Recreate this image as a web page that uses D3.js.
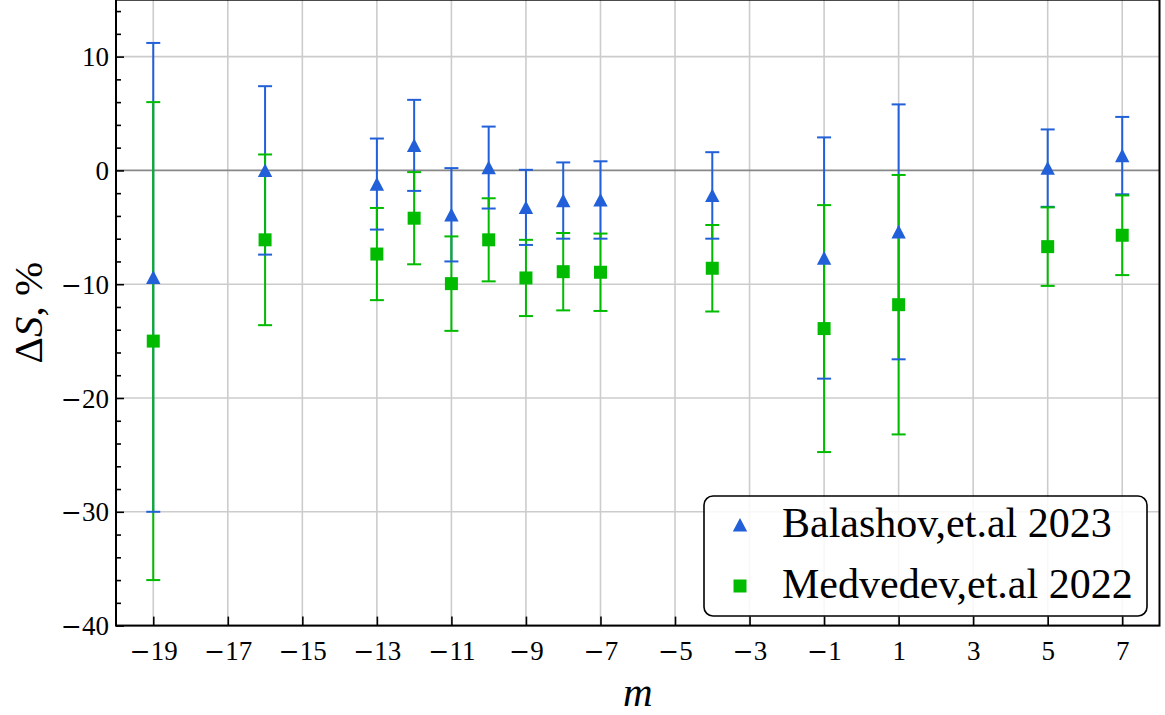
<!DOCTYPE html>
<html>
<head>
<meta charset="utf-8">
<script src="https://cdn.jsdelivr.net/npm/d3@7"></script>
<style>
  body { margin: 0; background: #fff; }
  svg { display: block; font-family: "Liberation Serif", "Times New Roman", serif; }
</style>
</head>
<body>
<svg id="chart" width="1165" height="715"></svg>
<script>
// data
var mValues = [-19, -16, -13, -12, -11, -10, -9, -8, -7, -4, -1, 1, 5, 7];
var balashov = [-9.4, 0.0, -1.2, 2.2, -3.9, 0.25, -3.25, -2.65, -2.6, -2.2, -7.7, -5.4, 0.2, 1.3];
var balashovErr = [20.6, 7.4, 4.0, 4.0, 4.1, 3.6, 3.3, 3.35, 3.4, 3.8, 10.6, 11.2, 3.4, 3.4];
var medvedev = [-15.0, -6.1, -7.35, -4.2, -9.95, -6.1, -9.45, -8.9, -8.95, -8.6, -13.9, -11.8, -6.7, -5.7];
var medvedevErr = [21.0, 7.5, 4.05, 4.05, 4.15, 3.65, 3.35, 3.4, 3.4, 3.8, 10.85, 11.4, 3.45, 3.5];
var xTicks = [-19, -17, -15, -13, -11, -9, -7, -5, -3, -1, 1, 3, 5, 7];
var yTicks = [-40, -30, -20, -10, 0, 10];
var yMinorTicks = d3.range(-38, 15, 2).filter(function(v) { return v % 10 !== 0; });
var seriesNames = ["Balashov,et.al 2023", "Medvedev,et.al 2022"];

var blue = "#2160d8",
    green = "#00bb00";

var svg = d3.select("#chart");

var plotLeft = 116, plotRight = 1159.5, plotTop = -0.3, plotBottom = 625.6;

var x = d3.scaleLinear().domain([-20, 8]).range([plotLeft, plotRight]);
var y = d3.scaleLinear().domain([-40, 15]).range([plotBottom, plotTop]);

// tick label with a long minus sign like matplotlib
function tickLabel(sel) {
    sel.each(function(d) {
        var t = d3.select(this).text("");
        if (d < 0) {
            t.append("tspan").attr("font-family", "DejaVu Serif").attr("font-size", 25).text("\u2212");
            t.append("tspan").text(Math.abs(d));
        } else {
            t.text(d);
        }
    });
}

// grid
var grid = svg.append("g");
grid.selectAll(".gx").data(xTicks).enter().append("line")
    .attr("x1", function(d) { return x(d); }).attr("x2", function(d) { return x(d); })
    .attr("y1", plotTop).attr("y2", plotBottom)
    .attr("stroke", "#cccccc").attr("stroke-width", 1.6);
grid.selectAll(".gy").data(yTicks.filter(function(d) { return d !== 0; })).enter().append("line")
    .attr("x1", plotLeft).attr("x2", plotRight)
    .attr("y1", function(d) { return y(d); }).attr("y2", function(d) { return y(d); })
    .attr("stroke", "#cccccc").attr("stroke-width", 1.6);
grid.append("line")
    .attr("x1", plotLeft).attr("x2", plotRight)
    .attr("y1", y(0)).attr("y2", y(0))
    .attr("stroke", "#888888").attr("stroke-width", 1.6);

// error bars, caps, then markers
var series = [
    { vals: balashov, err: balashovErr, color: blue, shape: "tri" },
    { vals: medvedev, err: medvedevErr, color: green, shape: "sq" }
];

series.forEach(function(s) {
    svg.append("g").selectAll("line").data(mValues).enter().append("line")
        .attr("x1", function(d) { return x(d); }).attr("x2", function(d) { return x(d); })
        .attr("y1", function(d, i) { return y(s.vals[i] + s.err[i]); })
        .attr("y2", function(d, i) { return y(s.vals[i] - s.err[i]); })
        .attr("stroke", s.color).attr("stroke-width", 2);
});

series.forEach(function(s) {
    var caps = svg.append("g");
    [1, -1].forEach(function(sign) {
        caps.selectAll(null).data(mValues).enter().append("line")
            .attr("x1", function(d) { return x(d) - 7; }).attr("x2", function(d) { return x(d) + 7; })
            .attr("y1", function(d, i) { return y(s.vals[i] + sign * s.err[i]); })
            .attr("y2", function(d, i) { return y(s.vals[i] + sign * s.err[i]); })
            .attr("stroke", s.color).attr("stroke-width", 2);
    });
});

var triangle = "M0,-7L7.2,6.6L-7.2,6.6Z";
var square = "M-6.5,-6.5H6.5V6.5H-6.5Z";

series.forEach(function(s) {
    svg.append("g").selectAll("path").data(mValues).enter().append("path")
        .attr("d", s.shape === "tri" ? triangle : square)
        .attr("transform", function(d, i) { return "translate(" + x(d) + "," + y(s.vals[i]) + ")"; })
        .attr("fill", s.color);
});

// axes with inward ticks
var xAxis = svg.append("g")
    .attr("transform", "translate(0," + plotBottom + ")")
    .call(d3.axisBottom(x).tickValues(xTicks).tickSize(-9).tickPadding(15));
var yAxis = svg.append("g")
    .attr("transform", "translate(" + plotLeft + ",0)")
    .call(d3.axisLeft(y).tickValues(yTicks).tickSize(-8).tickPadding(7));
svg.append("g")
    .attr("transform", "translate(" + plotLeft + ",0)")
    .call(d3.axisLeft(y).tickValues(yMinorTicks).tickSize(-5).tickFormat(""));

svg.selectAll(".domain").remove();
svg.selectAll(".tick line").attr("stroke", "#000").attr("stroke-width", 1.6);
xAxis.attr("font-size", 27).attr("font-family", "Liberation Serif, serif");
yAxis.attr("font-size", 27).attr("font-family", "Liberation Serif, serif");
xAxis.selectAll(".tick text").call(tickLabel).attr("fill", "#000").attr("dy", "0.71em");
yAxis.selectAll(".tick text").call(tickLabel).attr("fill", "#000").attr("dy", "0.34em");

// frame
svg.append("rect")
    .attr("x", plotLeft).attr("y", plotTop)
    .attr("width", plotRight - plotLeft).attr("height", plotBottom - plotTop)
    .attr("fill", "none").attr("stroke", "#000").attr("stroke-width", 2);

// axis labels
svg.append("text")
    .attr("x", (plotLeft + plotRight) / 2).attr("y", 706)
    .attr("text-anchor", "middle")
    .attr("font-size", 41).attr("font-style", "italic")
    .text("m");

var yl = svg.append("text")
    .attr("transform", "translate(41.5," + (plotTop + plotBottom) / 2 + ") rotate(-90)")
    .attr("text-anchor", "middle")
    .attr("font-size", 41);
yl.append("tspan").text("\u0394");
yl.append("tspan").attr("font-style", "italic").text("S");
yl.append("tspan").text(", %");

// legend
var legend = svg.append("g");
legend.append("rect")
    .attr("x", 704).attr("y", 496)
    .attr("width", 443).attr("height", 120)
    .attr("rx", 9)
    .attr("fill", "#ffffff").attr("fill-opacity", 0.85)
    .attr("stroke", "#000").attr("stroke-width", 1.6);

var legendRows = legend.selectAll(".row").data(seriesNames).enter().append("g")
    .attr("transform", function(d, i) { return "translate(740," + (525 + i * 61) + ")"; });
legendRows.append("path")
    .attr("d", function(d, i) { return i === 0 ? triangle : square; })
    .attr("fill", function(d, i) { return series[i].color; });
legendRows.append("text")
    .attr("x", 42).attr("y", 12)
    .attr("font-size", 42)
    .text(function(d) { return d; });
</script>
</body>
</html>
